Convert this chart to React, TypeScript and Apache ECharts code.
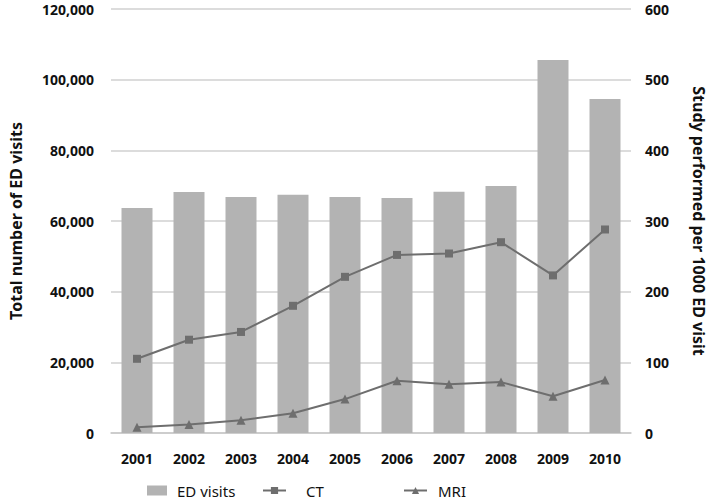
import React, { useEffect, useRef } from "react";
import * as echarts from "echarts";

const years = ["2001", "2002", "2003", "2004", "2005", "2006", "2007", "2008", "2009", "2010"];
const edVisits = [63700, 68200, 66800, 67400, 66800, 66500, 68300, 69900, 105600, 94500];
const ctRate = [105, 132, 143, 180, 221, 252, 254, 270, 223, 288];
const mriRate = [8, 12, 18, 28, 48, 74, 69, 72, 52, 75];
const leftTicks = { min: 0, max: 120000, interval: 20000 };
const rightTicks = { min: 0, max: 600, interval: 100 };

const FONT = "'Noto Sans', 'Open Sans', sans-serif";
const BAR = "#b3b3b3";
const LINE = "#6e6e6e";

export default function App() {
  const ref = useRef<HTMLDivElement>(null);
  useEffect(() => {
    if (!ref.current) return;
    const chart = echarts.init(ref.current, null, { renderer: "svg" });
    const legendText = { fontFamily: FONT, fontSize: 15, color: "#111" };
    const tickLabel = { fontFamily: FONT, fontSize: 14, fontWeight: "bold", color: "#111" };
    const axisName = { fontFamily: FONT, fontSize: 16, fontWeight: "bold", color: "#111" };
    chart.setOption({
      animation: false,
      textStyle: { fontFamily: FONT },
      grid: { left: 102, right: 76, top: 9, bottom: 70 },
      legend: [
        {
          data: ["ED visits"],
          left: 147,
          top: 483,
          padding: 0,
          itemWidth: 20,
          itemHeight: 10,
          textStyle: { ...legendText, padding: [0, 0, 0, 5] },
          icon: "rect",
        },
        {
          data: ["CT"],
          left: 262,
          top: 483,
          padding: 0,
          itemWidth: 23,
          itemHeight: 9,
          textStyle: { ...legendText, padding: [0, 0, 0, 15] },
        },
        {
          data: ["MRI"],
          left: 403,
          top: 483,
          padding: 0,
          itemWidth: 23,
          itemHeight: 9,
          textStyle: { ...legendText, padding: [0, 0, 0, 6] },
        },
      ],
      xAxis: {
        type: "category",
        data: years,
        axisLine: { lineStyle: { color: "#c8c8c8", width: 1.5 } },
        axisTick: { show: false },
        axisLabel: { ...tickLabel, margin: 18 },
      },
      yAxis: [
        {
          type: "value",
          min: leftTicks.min,
          max: leftTicks.max,
          interval: leftTicks.interval,
          name: "Total number of ED visits",
          nameLocation: "middle",
          nameGap: 87,
          nameRotate: 90,
          nameTextStyle: axisName,
          axisLine: { show: false },
          axisTick: { show: false },
          splitLine: { lineStyle: { color: "#d0d0d0", width: 1.5 } },
          axisLabel: {
            ...tickLabel,
            margin: 17,
            formatter: (v: number) => v.toLocaleString("en-US"),
          },
        },
        {
          type: "value",
          min: rightTicks.min,
          max: rightTicks.max,
          interval: rightTicks.interval,
          name: "Study performed per 1000 ED visit",
          nameLocation: "middle",
          nameGap: 60,
          nameRotate: -90,
          nameTextStyle: axisName,
          axisLine: { show: false },
          axisTick: { show: false },
          splitLine: { show: false },
          axisLabel: { ...tickLabel, margin: 14 },
        },
      ],
      series: [
        {
          name: "ED visits",
          type: "bar",
          data: edVisits,
          barWidth: 31,
          itemStyle: { color: BAR },
          yAxisIndex: 0,
        },
        {
          name: "CT",
          type: "line",
          data: ctRate,
          yAxisIndex: 1,
          symbol: "rect",
          symbolSize: 8,
          lineStyle: { color: LINE, width: 2 },
          itemStyle: { color: LINE },
        },
        {
          name: "MRI",
          type: "line",
          data: mriRate,
          yAxisIndex: 1,
          symbol: "triangle",
          symbolSize: 9,
          lineStyle: { color: LINE, width: 2 },
          itemStyle: { color: LINE },
        },
      ],
    });
    return () => chart.dispose();
  }, []);
  return <div ref={ref} style={{ width: 715, height: 503, position: "absolute", left: 0, top: 0 }} />;
}
